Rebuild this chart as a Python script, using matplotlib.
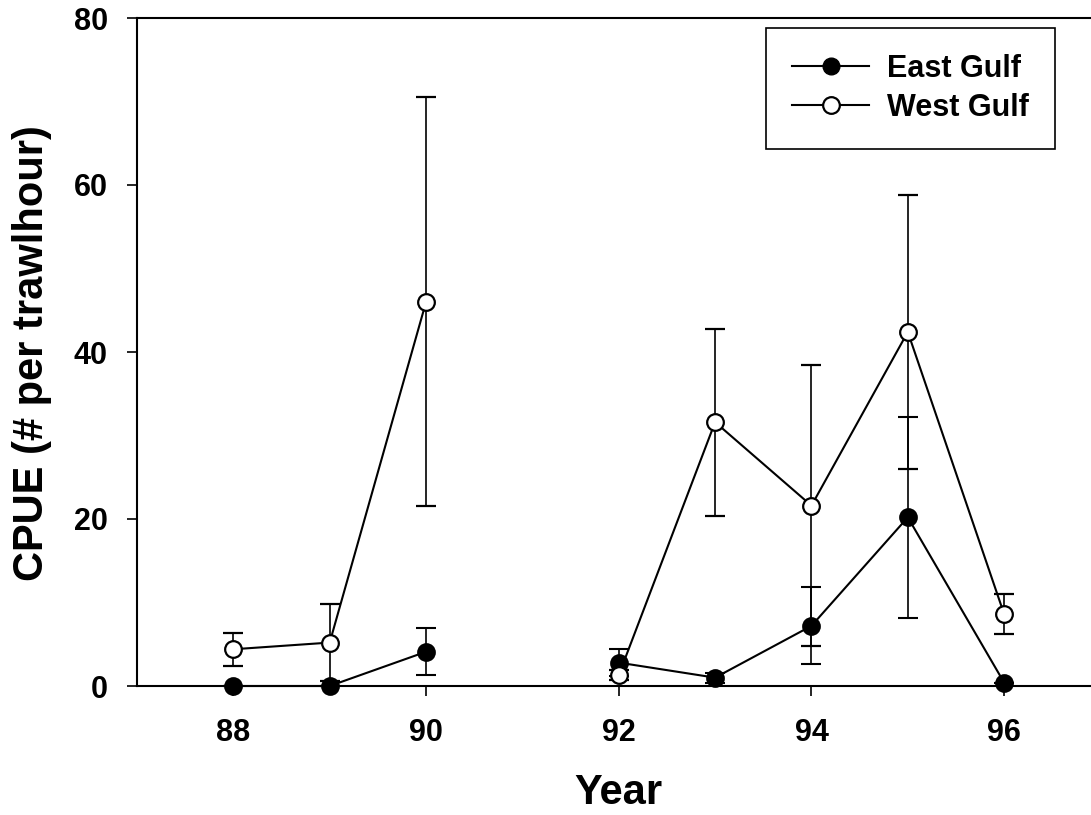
import numpy as np
import matplotlib
matplotlib.use("Agg")
import matplotlib.pyplot as plt
from matplotlib.lines import Line2D

plt.rcParams["font.family"] = ["Liberation Sans", "DejaVu Sans"]
plt.rcParams["font.weight"] = "bold"

# Survey years (no survey in 91 -> NaN breaks the lines)
years = [88, 89, 90, 91, 92, 93, 94, 95, 96]
east_mean = [0.0, 0.0, 4.1, np.nan, 2.8, 1.0, 7.2, 20.2, 0.4]
east_err = [0.0, 0.0, 2.8, np.nan, 1.6, 0.6, 4.6, 12.0, 0.0]
west_mean = [4.4, 5.2, 46.0, np.nan, 1.3, 31.6, 21.6, 42.4, 8.6]
west_err = [2.0, 4.6, 24.5, np.nan, 0.6, 11.2, 16.8, 16.4, 2.4]

xticks = [88, 90, 92, 94, 96]
yticks = [0, 20, 40, 60, 80]

W, H = 1091, 815
fig = plt.figure(figsize=(W / 100, H / 100), dpi=100)
left_px, right_px, top_px, bottom_px = 137, 1100.5, 18, 686
ax = fig.add_axes([left_px / W, 1 - bottom_px / H,
                   (right_px - left_px) / W, (bottom_px - top_px) / H])

common = dict(color="black", lw=1.5, ms=12, capsize=7.5, elinewidth=1.2,
              capthick=1.2, clip_on=False)
e = ax.errorbar(years, east_mean, yerr=east_err, fmt="o-",
                mfc="black", mec="black", mew=1.5, zorder=3, **common)
w = ax.errorbar(years, west_mean, yerr=west_err, fmt="o-",
                mfc="white", mec="black", mew=1.6, zorder=4, **common)
for art, z in ((e, 2.4), (w, 2.5)):
    for c in list(art[1]) + list(art[2]):
        c.set_clip_on(False)
        c.set_zorder(z)

ax.set_xlim(87, 97)
ax.set_ylim(0, 80)
ax.set_xticks(xticks)
ax.set_yticks(yticks)
ax.tick_params(direction="out", length=7, width=1.2, labelsize=22)
ax.tick_params(axis="y", pad=14)
ax.tick_params(axis="x", pad=16)
for lab in ax.get_xticklabels() + ax.get_yticklabels():
    lab.set_fontweight("bold")

for s in ("left", "bottom", "top"):
    ax.spines[s].set_linewidth(1.5)
ax.spines["right"].set_visible(False)

fig.text(32 / W, 1 - 353 / H, "CPUE (# per trawlhour)", rotation=90,
         ha="center", va="center", fontsize=30, fontweight="bold")
fig.text(618 / W, 1 - 804 / H, "Year", ha="center", va="baseline",
         fontsize=30, fontweight="bold")

handles = [
    Line2D([], [], color="black", lw=1.5, marker="o", ms=12, mfc="black", mec="black"),
    Line2D([], [], color="black", lw=1.5, marker="o", ms=12, mfc="white", mec="black", mew=1.6),
]
leg = fig.legend(handles, ["East Gulf", "West Gulf"], loc="upper right",
                 bbox_to_anchor=(1055 / W, 1 - 28 / H), frameon=True,
                 fancybox=False, shadow=False, handlelength=2.5,
                 handletextpad=0.6, borderpad=0.85, labelspacing=0.3,
                 borderaxespad=0, prop={"weight": "bold", "size": 22})
leg.get_frame().set_edgecolor("black")
leg.get_frame().set_linewidth(1.2)
leg.get_frame().set_alpha(1)

fig.savefig("out.png", dpi=100)
